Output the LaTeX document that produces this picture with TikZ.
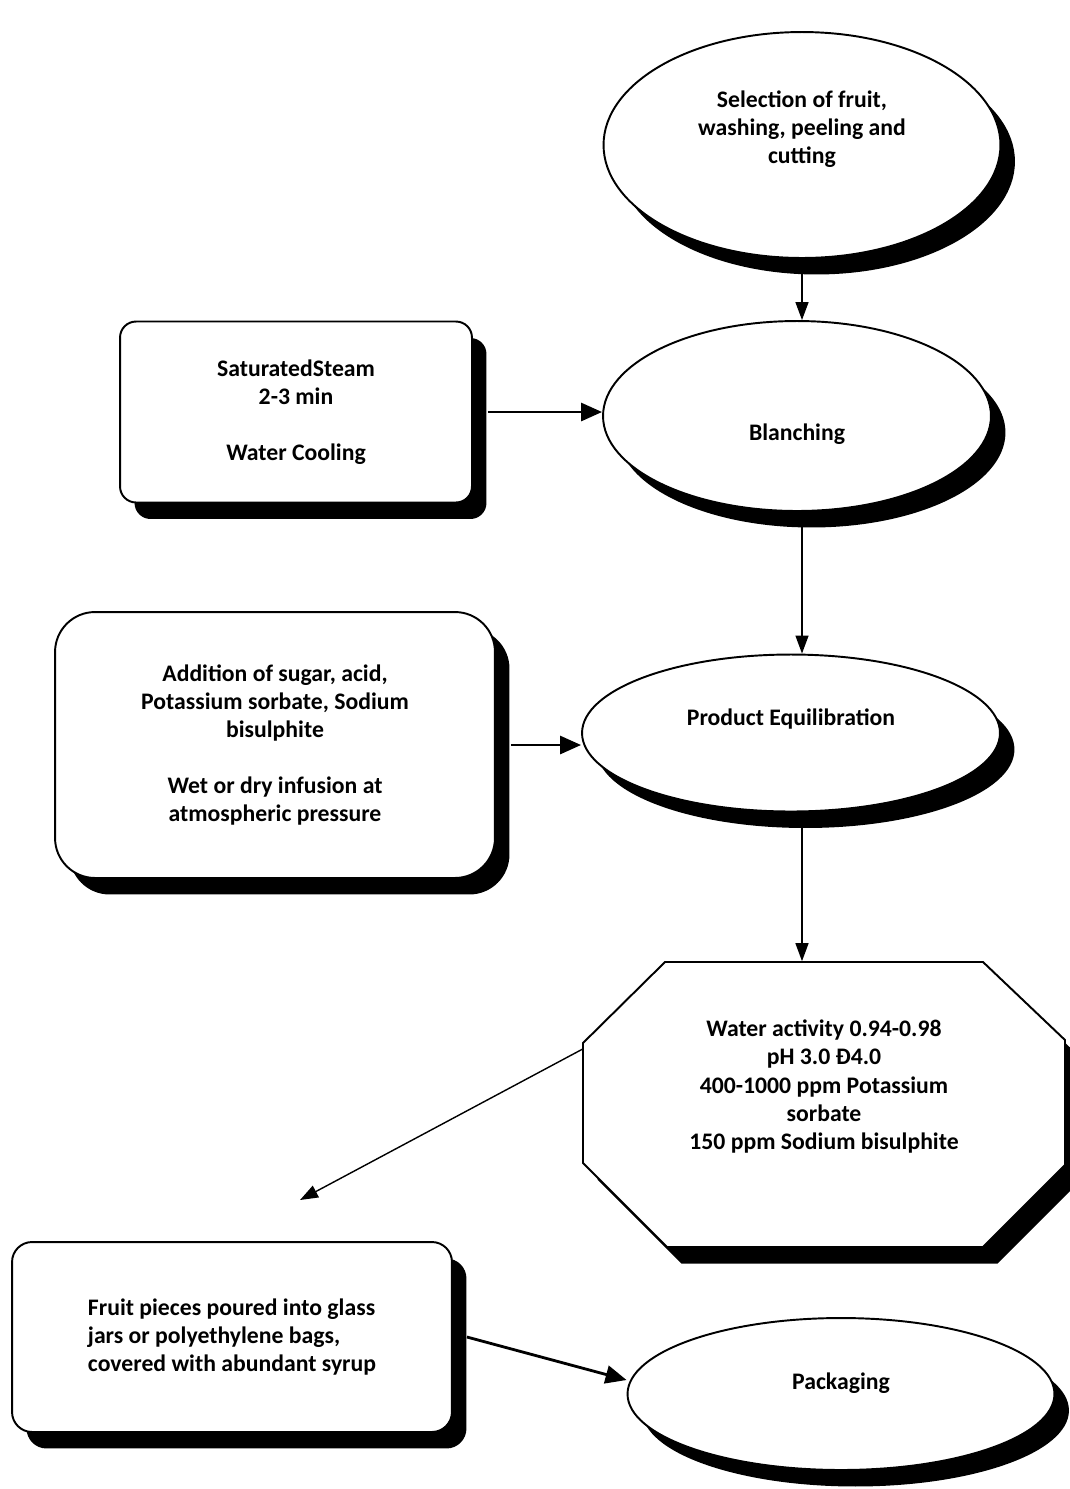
\documentclass[tikz,border=0pt]{standalone}
\usepackage{fontspec}
\setmainfont{Carlito}
\usetikzlibrary{arrows.meta, shapes.geometric, shadows}

\begin{document}
\begin{tikzpicture}[
    x=0.02cm, y=-0.02cm,
    dropped/.style={drop shadow={shadow xshift=0.29cm, shadow yshift=-0.33cm, fill=black, opacity=1}},
    outline/.style={draw, line width=1.1pt, fill=white, dropped},
    textstyle/.style={align=center, font=\fontsize{13.5}{16}\selectfont\bfseries},
    box/.style={outline, textstyle},
    oval/.style={box, ellipse, inner sep=0pt},
    arrow/.style={-{Triangle[length=0.36cm, width=0.26cm]}, line width=0.8pt},
    sidearrow/.style={-{Triangle[length=0.42cm, width=0.36cm]}, line width=1.6pt}
]
\useasboundingbox (0,0) rectangle (1070,1489);

% Main column
\node[oval, minimum width=7.94cm, minimum height=4.52cm, text depth=20pt] (sel) at (802,145) {Selection of fruit,\\washing, peeling and\\cutting};
\node[oval, minimum width=7.76cm, minimum height=3.8cm, text height=30pt] (blanch) at (797,416) {Blanching};
\node[oval, minimum width=8.36cm, minimum height=3.14cm, text depth=17.5pt] (equil) at (791,733) {Product Equilibration};

% Octagon
\draw[outline] (665,962) -- (983,962) -- (1065,1040) -- (1065,1165) -- (983,1247)
    -- (667,1247) -- (583,1163) -- (583,1043) -- cycle;
\node[textstyle, minimum width=9.64cm, minimum height=5.7cm, inner sep=0pt, text depth=22pt] (water) at (824,1104)
      {Water activity 0.94-0.98\\pH 3.0 Ð4.0\\400-1000 ppm Potassium\\sorbate\\150 ppm Sodium bisulphite};

\node[oval, minimum width=8.54cm, minimum height=3.04cm, text depth=15pt] (pack) at (841,1394) {Packaging};

% Side boxes
\node[box, rounded corners=0.32cm, minimum width=7.04cm, minimum height=3.62cm] (steam) at (296,412)
      {SaturatedSteam\\2-3 min\\[16pt]Water Cooling};
\node[box, rounded corners=0.8cm, minimum width=8.8cm, minimum height=5.32cm] (add) at (275,745)
      {Addition of sugar, acid,\\Potassium sorbate, Sodium\\bisulphite\\[16pt]Wet or dry infusion at\\atmospheric pressure};
\node[box, rounded corners=0.4cm, minimum width=8.8cm, minimum height=3.8cm, align=left] (fruit) at (232,1337)
      {Fruit pieces poured into glass\\jars or polyethylene bags,\\covered with abundant syrup};

% Arrows
\coordinate (drop) at (300,1200);
\draw[arrow] (sel.south) -- (sel.south |- blanch.north);
\draw[arrow] (sel.south |- blanch.south) -- (sel.south |- equil.north);
\draw[arrow] (sel.south |- equil.south) -- (sel.south |- water.north);
\draw[sidearrow] ([xshift=0.3cm]steam.east) -- (steam.east -| blanch.west);
\draw[sidearrow] ([xshift=0.3cm]add.east) -- (add.east -| equil.west);
\draw[arrow] ([yshift=1.1cm]water.west) -- (drop);
\draw[sidearrow] ([xshift=0.28cm]fruit.east) -- ([yshift=0.28cm]pack.west);

\end{tikzpicture}
\end{document}
